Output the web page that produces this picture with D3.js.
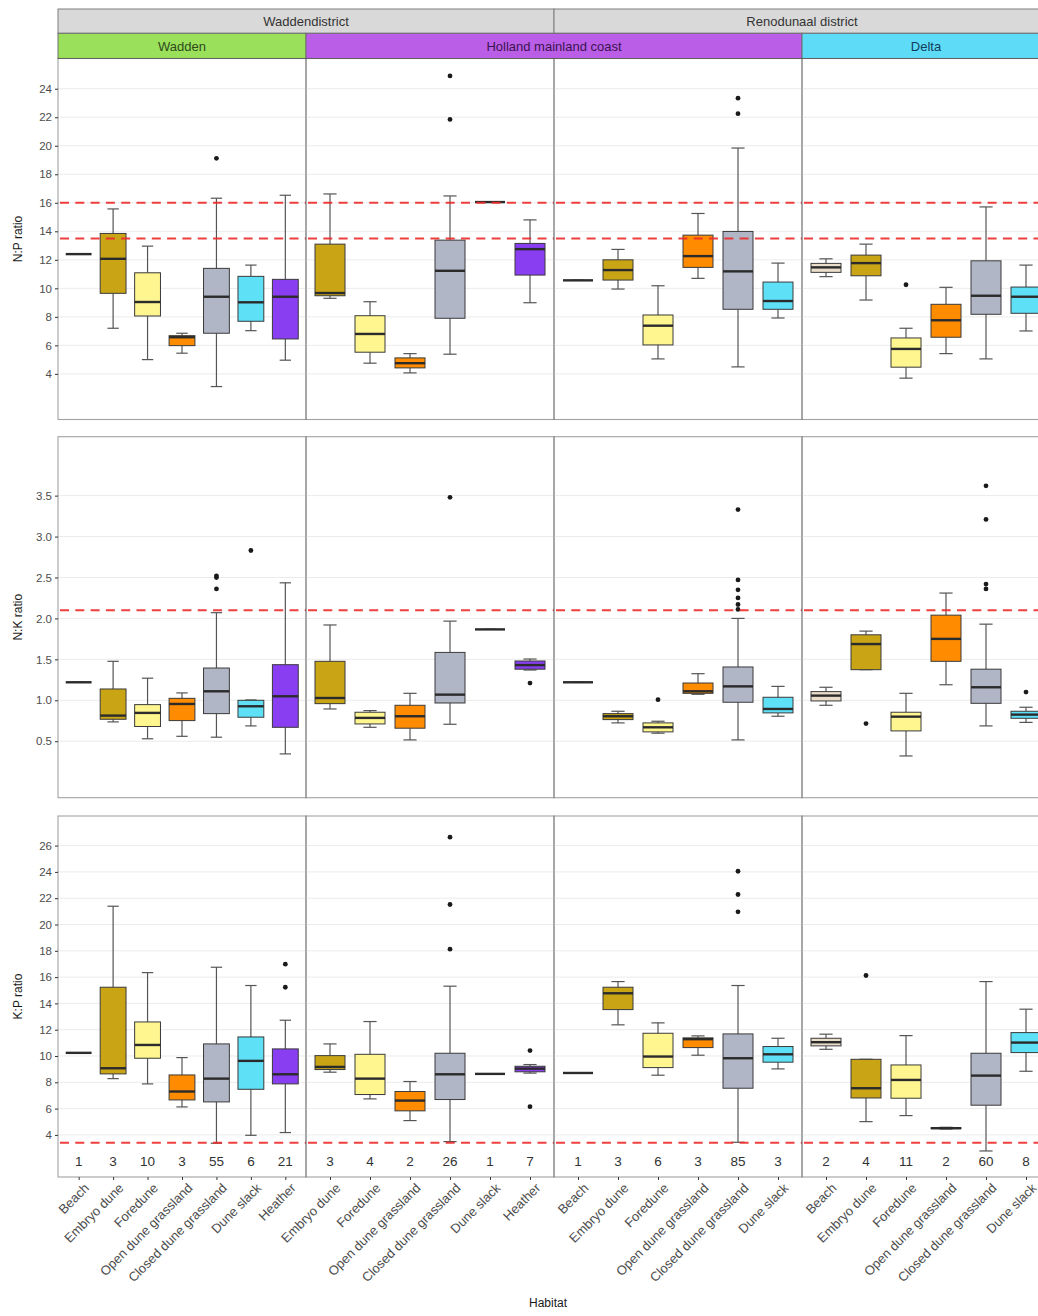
<!DOCTYPE html>
<html>
<head>
<meta charset="utf-8">
<script src="https://cdn.jsdelivr.net/npm/d3@7"></script>
<style>
  body { margin: 0; background: #fff; }
  svg { display: block; font-family: "Liberation Sans", Arial, sans-serif; }
</style>
</head>
<body>
<div id="chart"></div>
<script>
// categories
const regions = ["Waddendistrict", "Renodunaal district"];
const coasts = ["Wadden", "Holland mainland coast", "Delta"];
const columnHabitats = [
  ["Beach", "Embryo dune", "Foredune", "Open dune grassland", "Closed dune grassland", "Dune slack", "Heather"],
  ["Embryo dune", "Foredune", "Open dune grassland", "Closed dune grassland", "Dune slack", "Heather"],
  ["Beach", "Embryo dune", "Foredune", "Open dune grassland", "Closed dune grassland", "Dune slack"],
  ["Beach", "Embryo dune", "Foredune", "Open dune grassland", "Closed dune grassland", "Dune slack"]
];
const sampleCounts = [[1, 3, 10, 3, 55, 6, 21], [3, 4, 2, 26, 1, 7], [1, 3, 6, 3, 85, 3], [2, 4, 11, 2, 60, 8]];

// box stats per column and habitat: [lower whisker, Q1, median, Q3, upper whisker]
const npStats = [
  [[12.4, 12.4, 12.4, 12.4, 12.4], [7.2, 9.65, 12.07, 13.85, 15.57], [5.0, 8.06, 9.04, 11.09, 12.96], [5.45, 5.98, 6.57, 6.68, 6.85],
   [3.11, 6.85, 9.41, 11.4, 16.32], [7.03, 7.69, 9.02, 10.84, 11.63], [4.96, 6.45, 9.41, 10.63, 16.53]],
  [[9.3, 9.48, 9.67, 13.1, 16.62], [4.75, 5.52, 6.8, 8.08, 9.06], [4.07, 4.42, 4.75, 5.12, 5.42],
   [5.38, 7.9, 11.23, 13.38, 16.48], [16.05, 16.05, 16.05, 16.05, 16.05], [8.99, 10.93, 12.75, 13.15, 14.8]],
  [[10.56, 10.56, 10.56, 10.56, 10.56], [9.95, 10.58, 11.28, 12.0, 12.73], [5.05, 6.03, 7.38, 8.13, 10.18],
   [10.7, 11.47, 12.26, 13.73, 15.25], [4.49, 8.53, 11.19, 13.99, 19.84], [7.92, 8.53, 9.11, 10.44, 11.77]],
  [[10.82, 11.12, 11.47, 11.75, 12.07], [9.18, 10.88, 11.77, 12.33, 13.1], [3.7, 4.47, 5.75, 6.52, 7.2],
   [5.42, 6.57, 7.76, 8.88, 10.07], [5.05, 8.18, 9.48, 11.93, 15.71], [7.01, 8.25, 9.41, 10.09, 11.63]]
];
const nkStats = [
  [[1.22, 1.22, 1.22, 1.22, 1.22], [0.736, 0.768, 0.813, 1.138, 1.476], [0.53, 0.68, 0.846, 0.947, 1.27], [0.56, 0.752, 0.955, 1.024, 1.09],
   [0.549, 0.837, 1.11, 1.394, 2.07], [0.687, 0.793, 0.927, 1.0, 1.004], [0.345, 0.67, 1.049, 1.435, 2.435]],
  [[0.894, 0.959, 1.028, 1.476, 1.92], [0.67, 0.711, 0.785, 0.854, 0.874], [0.516, 0.659, 0.805, 0.939, 1.085],
   [0.707, 0.967, 1.069, 1.585, 1.967], [1.866, 1.866, 1.866, 1.866, 1.866], [1.37, 1.38, 1.43, 1.48, 1.504]],
  [[1.22, 1.22, 1.22, 1.22, 1.22], [0.724, 0.764, 0.805, 0.837, 0.866], [0.598, 0.614, 0.67, 0.724, 0.744],
   [1.073, 1.085, 1.11, 1.211, 1.325], [0.516, 0.976, 1.17, 1.407, 2.0], [0.805, 0.846, 0.894, 1.037, 1.17]],
  [[0.939, 0.992, 1.057, 1.106, 1.159], [1.374, 1.374, 1.687, 1.8, 1.845], [0.32, 0.626, 0.8, 0.854, 1.085],
   [1.19, 1.476, 1.75, 2.04, 2.31], [0.687, 0.963, 1.159, 1.38, 1.93], [0.73, 0.78, 0.825, 0.866, 0.915]]
];
const kpStats = [
  [[10.24, 10.24, 10.24, 10.24, 10.24], [8.28, 8.64, 9.07, 15.23, 21.39], [7.88, 9.83, 10.84, 12.59, 16.34], [6.13, 6.66, 7.3, 8.56, 9.88],
   [3.37, 6.51, 8.28, 10.92, 16.75], [3.97, 7.47, 9.63, 11.45, 15.36], [4.18, 7.88, 8.61, 10.54, 12.72]],
  [[8.77, 8.97, 9.17, 10.03, 10.92], [6.74, 7.07, 8.28, 10.13, 12.62], [5.09, 5.83, 6.61, 7.3, 8.06],
   [3.49, 6.69, 8.61, 10.21, 15.31], [8.64, 8.64, 8.64, 8.64, 8.64], [8.7, 8.8, 9.04, 9.22, 9.35]],
  [[8.71, 8.71, 8.71, 8.71, 8.71], [12.37, 13.53, 14.77, 15.23, 15.66], [8.54, 9.12, 9.96, 11.73, 12.52],
   [10.06, 10.64, 11.28, 11.38, 11.53], [3.44, 7.55, 9.83, 11.68, 15.36], [9.02, 9.53, 10.13, 10.72, 11.35]],
  [[10.51, 10.77, 11.05, 11.35, 11.66], [5.01, 6.81, 7.55, 9.75, 9.75], [5.47, 6.79, 8.18, 9.32, 11.55],
   [4.45, 4.48, 4.51, 4.55, 4.58], [2.78, 6.26, 8.51, 10.21, 15.66], [8.84, 10.26, 11.02, 11.78, 13.56]]
];

// outliers per column: [habitat index, value]
const npOutliers = [[[4, 19.12]], [[3, 24.9], [3, 21.85]], [[4, 23.34], [4, 22.25]], [[2, 10.25]]];
const nkOutliers = [
  [[4, 2.52], [4, 2.5], [4, 2.36], [5, 2.83]],
  [[3, 3.48], [5, 1.21]],
  [[2, 1.008], [4, 3.33], [4, 2.47], [4, 2.35], [4, 2.25], [4, 2.17], [4, 2.11]],
  [[1, 0.715], [4, 3.62], [4, 3.21], [4, 2.42], [4, 2.36], [5, 1.1]]
];
const kpOutliers = [[[6, 16.98], [6, 15.23]], [[3, 26.64], [3, 21.52], [3, 18.12], [5, 10.41], [5, 6.15]], [[4, 24.05], [4, 22.28], [4, 20.96]], [[1, 16.12]]];

const rowTitles = ["N:P ratio", "N:K ratio", "K:P ratio"];
const rowTicks = [[4, 6, 8, 10, 12, 14, 16, 18, 20, 22, 24], [0.5, 1.0, 1.5, 2.0, 2.5, 3.0, 3.5], [4, 6, 8, 10, 12, 14, 16, 18, 20, 22, 24, 26]];
const refLines = [[16, 13.5], [2.1], [3.4]];
const countLabelValue = 2;

let rowStats = [npStats, nkStats, kpStats];
let rowOutliers = [npOutliers, nkOutliers, kpOutliers];
let rowDomains = [[0.8, 26.12], [-0.19, 4.22], [0.8, 28.25]];

let habitatColors = {
  "Beach": "#eadecb",
  "Embryo dune": "#c9a516",
  "Foredune": "#fff68f",
  "Open dune grassland": "#ff8c00",
  "Closed dune grassland": "#b1b6c6",
  "Dune slack": "#5ee0f7",
  "Heather": "#8a3ef2"
};
let coastColors = ["#9ae05a", "#ba5ee7", "#5edbf7"];
let coastText = ["#2e4a1c", "#3a1450", "#123d5a"];

let width = 1038;
let height = 1316;
let panelLeft = 58;
let colWidth = 248;
let rowTops = [58.5, 436.7, 816];
let rowHeight = 361;

let svg = d3.select("#chart")
  .append("svg")
  .attr("width", width)
  .attr("height", height);

svg.append("rect").attr("width", width).attr("height", height).attr("fill", "#fff");

// strips
let regionSpans = [[0, 2], [2, 4]];
regionSpans.forEach(function(s, i) {
  let x0 = panelLeft + s[0] * colWidth, x1 = panelLeft + s[1] * colWidth;
  svg.append("rect").attr("x", x0).attr("y", 9).attr("width", x1 - x0).attr("height", 24.3)
    .attr("fill", "#d9d9d9").attr("stroke", "#7f7f7f").attr("stroke-width", 1);
  svg.append("text").attr("x", (x0 + x1) / 2).attr("y", 25.8).attr("text-anchor", "middle")
    .attr("font-size", 13).attr("fill", "#333").text(regions[i]);
});
let coastSpans = [[0, 1], [1, 3], [3, 4]];
coastSpans.forEach(function(s, i) {
  let x0 = panelLeft + s[0] * colWidth, x1 = panelLeft + s[1] * colWidth;
  svg.append("rect").attr("x", x0).attr("y", 33.3).attr("width", x1 - x0).attr("height", 25.2)
    .attr("fill", coastColors[i]).attr("stroke", "#6f6f6f").attr("stroke-width", 1);
  svg.append("text").attr("x", (x0 + x1) / 2).attr("y", 50.8).attr("text-anchor", "middle")
    .attr("font-size", 13).attr("fill", coastText[i]).text(coasts[i]);
});

rowTitles.forEach(function(title, r) {
  let top = rowTops[r];
  let y = d3.scaleLinear().domain(rowDomains[r]).range([top + rowHeight, top]);

  svg.append("text")
    .attr("transform", "translate(22," + (top + rowHeight / 2) + ")rotate(-90)")
    .attr("text-anchor", "middle").attr("font-size", 12).attr("fill", "#1a1a1a")
    .text(title);

  columnHabitats.forEach(function(habitats, c) {
    let x0 = panelLeft + c * colWidth;
    let x = d3.scalePoint().domain(habitats).range([x0, x0 + colWidth]).padding(0.6);
    let step = x.step();
    let g = svg.append("g");

    // grid
    g.selectAll(".grid").data(rowTicks[r]).join("line")
      .attr("x1", x0).attr("x2", x0 + colWidth)
      .attr("y1", d => y(d)).attr("y2", d => y(d))
      .attr("stroke", "#ebebeb").attr("stroke-width", 1);

    let stats = rowStats[r][c];
    let bw = step * 0.75, cw = step * 0.33;
    let boxes = g.selectAll(".box").data(habitats).join("g");

    boxes.append("line").attr("x1", d => x(d)).attr("x2", d => x(d))
      .attr("y1", (d, i) => y(stats[i][3])).attr("y2", (d, i) => y(stats[i][4]))
      .attr("stroke", "#555").attr("stroke-width", 1.2);
    boxes.append("line").attr("x1", d => x(d)).attr("x2", d => x(d))
      .attr("y1", (d, i) => y(stats[i][1])).attr("y2", (d, i) => y(stats[i][0]))
      .attr("stroke", "#555").attr("stroke-width", 1.2);
    boxes.append("line").attr("x1", d => x(d) - cw / 2).attr("x2", d => x(d) + cw / 2)
      .attr("y1", (d, i) => y(stats[i][4])).attr("y2", (d, i) => y(stats[i][4]))
      .attr("stroke", "#555").attr("stroke-width", 1.2);
    boxes.append("line").attr("x1", d => x(d) - cw / 2).attr("x2", d => x(d) + cw / 2)
      .attr("y1", (d, i) => y(stats[i][0])).attr("y2", (d, i) => y(stats[i][0]))
      .attr("stroke", "#555").attr("stroke-width", 1.2);
    boxes.append("rect")
      .attr("x", d => x(d) - bw / 2).attr("width", bw)
      .attr("y", (d, i) => y(stats[i][3]))
      .attr("height", (d, i) => y(stats[i][1]) - y(stats[i][3]))
      .attr("fill", d => habitatColors[d]).attr("stroke", "#3a3a3a").attr("stroke-width", 1);
    boxes.append("line").attr("x1", d => x(d) - bw / 2).attr("x2", d => x(d) + bw / 2)
      .attr("y1", (d, i) => y(stats[i][2])).attr("y2", (d, i) => y(stats[i][2]))
      .attr("stroke", "#2b2b2b").attr("stroke-width", 2.4);

    g.selectAll(".outlier").data(rowOutliers[r][c]).join("circle")
      .attr("cx", d => x(habitats[d[0]])).attr("cy", d => y(d[1]))
      .attr("r", 2.4).attr("fill", "#1a1a1a");

    // reference lines
    g.selectAll(".ref").data(refLines[r]).join("line")
      .attr("x1", x0).attr("x2", x0 + colWidth)
      .attr("y1", d => y(d)).attr("y2", d => y(d))
      .attr("stroke", "#ee2b2b").attr("stroke-width", 2)
      .attr("stroke-dasharray", "9,6.3").attr("stroke-dashoffset", -2)
      .attr("opacity", 0.9);

    if (r === 2) {
      g.selectAll(".count").data(habitats).join("text")
        .attr("x", d => x(d)).attr("y", y(countLabelValue) + 5)
        .attr("text-anchor", "middle").attr("font-size", 13.5).attr("fill", "#333")
        .text((d, i) => sampleCounts[c][i]);

      let xAxis = g.append("g")
        .attr("transform", "translate(0," + (top + rowHeight) + ")")
        .call(d3.axisBottom(x).tickSize(3).tickSizeOuter(0));
      xAxis.select(".domain").remove();
      xAxis.selectAll(".tick line").attr("stroke", "#333");
      xAxis.selectAll(".tick text")
        .attr("font-size", 13).attr("fill", "#4d4d4d")
        .attr("font-family", "'Liberation Sans', Arial, sans-serif")
        .attr("text-anchor", "end")
        .attr("dy", null)
        .attr("transform", "translate(4,5)rotate(-45)")
        .attr("x", 0).attr("y", 0)
        .attr("dominant-baseline", "hanging");
    }

    // panel border
    g.append("rect").attr("x", x0).attr("y", top).attr("width", colWidth).attr("height", rowHeight)
      .attr("fill", "none").attr("stroke", "#555").attr("stroke-opacity", 0.55).attr("stroke-width", 1.1);
  });

  let yAxis = svg.append("g")
    .attr("transform", "translate(" + panelLeft + ",0)")
    .call(d3.axisLeft(y).tickValues(rowTicks[r]).tickSize(3)
      .tickFormat(r === 1 ? d3.format(".1f") : d3.format("d")));
  yAxis.select(".domain").remove();
  yAxis.selectAll(".tick line").attr("stroke", "#333");
  yAxis.selectAll(".tick text").attr("font-size", 11.5).attr("fill", "#4d4d4d")
    .attr("font-family", "'Liberation Sans', Arial, sans-serif");
});

svg.append("text").attr("x", 548).attr("y", 1307).attr("text-anchor", "middle")
  .attr("font-size", 12).attr("fill", "#1a1a1a").text("Habitat");
</script>
</body>
</html>
